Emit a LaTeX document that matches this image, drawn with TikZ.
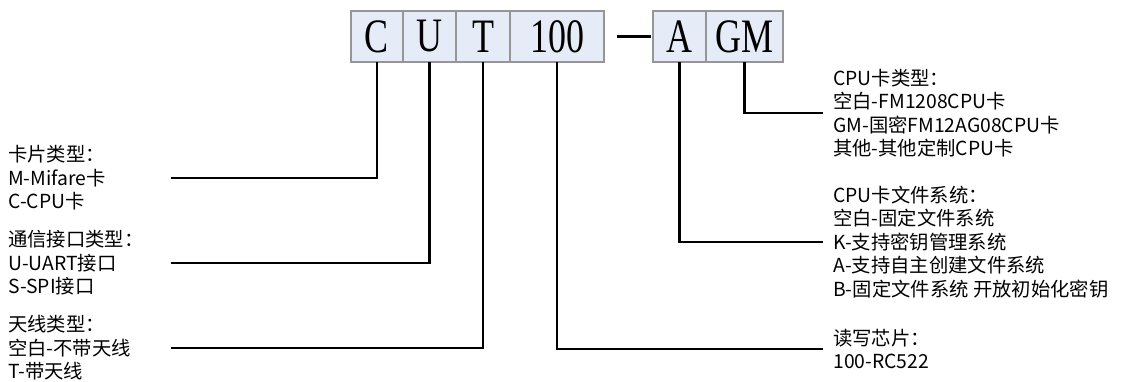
\documentclass[tikz,border=0pt]{standalone}
\usepackage{fontspec}
\setmainfont{Noto Sans CJK SC}
\newfontfamily\codefont[FakeStretch=0.75]{Liberation Serif}
\usepackage{xcolor}
\usetikzlibrary{positioning}
\definecolor{boxfill}{RGB}{230,236,247}
\definecolor{boxline}{RGB}{150,150,150}
\tikzset{
    codebox/.style={draw=boxline, line width=1.3pt, fill=boxfill, minimum height=38.25pt, inner sep=0pt, outer sep=0pt, font=\codefont\fontsize{36}{36}\selectfont},
    leftlbl/.style={anchor=west, align=left, text width=121.5pt, inner sep=0pt, font=\fontsize{14.5}{17.6}\selectfont},
    rightlbl/.style={anchor=west, align=left, inner xsep=7.5pt, inner ysep=0pt, font=\fontsize{14.5}{17.6}\selectfont},
    wire/.style={line width=1.7pt}
}

\begin{document}
\begin{tikzpicture}[x=0.75pt, y=-0.75pt]
    \useasboundingbox (0,0) rectangle (1132,382);
    % code boxes
    \node[codebox, minimum width=39pt] (C) at (377,36.5) {C};
    \node[codebox, minimum width=39.75pt, right=0pt of C] (U) {U};
    \node[codebox, minimum width=40.5pt, right=0pt of U] (T) {T};
    \node[codebox, minimum width=70.5pt, right=0pt of T] (num) {100};
    \node[codebox, minimum width=39.75pt] (A) at (679.5,36.5) {A};
    \node[codebox, minimum width=57.75pt, right=0pt of A] (GM) {GM};
    \draw[wire, shorten <=9.75pt, shorten >=1.5pt] (num) -- (A);
    % left side
    \node[leftlbl] (card) at (8,178) {卡片类型：\\M-Mifare卡\\C-CPU卡};
    \node[leftlbl] (iface) at (8,263) {通信接口类型：\\U-UART接口\\S-SPI接口};
    \node[leftlbl] (ant) at (8,348) {天线类型：\\空白-不带天线\\T-带天线};
    % right side
    \node[rightlbl] (cputype) at (823,113) {CPU卡类型：\\空白-FM1208CPU卡\\GM-国密FM12AG08CPU卡\\其他-其他定制CPU卡};
    \node[rightlbl] (fsys) at (823,242) {CPU卡文件系统：\\空白-固定文件系统\\K-支持密钥管理系统\\A-支持自主创建文件系统\\B-固定文件系统 开放初始化密钥};
    \node[rightlbl] (chip) at (823,349) {读写芯片：\\100-RC522};
    % connectors
    \draw[wire] (C.south) |- (card.east);
    \draw[wire] (U.south) |- (iface.east);
    \draw[wire] (T.south) |- (ant.east);
    \draw[wire] (num.south) |- (chip.west);
    \draw[wire] (A.south) |- (fsys.west);
    \draw[wire] (GM.south) |- (cputype.west);
\end{tikzpicture}
\end{document}
